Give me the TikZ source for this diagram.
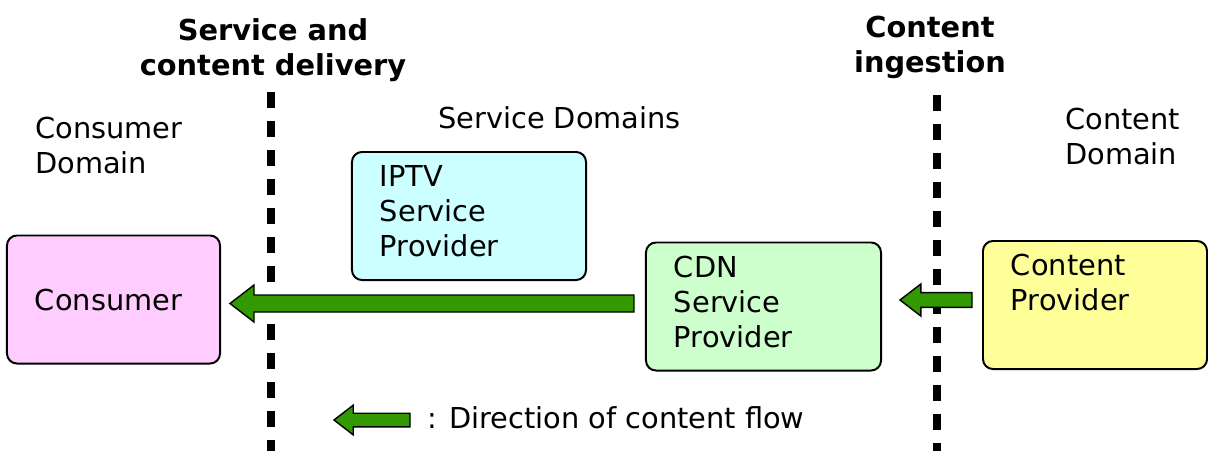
\documentclass[tikz,border=0pt]{standalone}
\usepackage{fontspec}
\setmainfont{DejaVu Sans}
\usetikzlibrary{calc}

\definecolor{consumerpink}{HTML}{FFCCFF}
\definecolor{iptvcyan}{HTML}{CCFFFF}
\definecolor{cdngreen}{HTML}{CCFFCC}
\definecolor{provideryellow}{HTML}{FFFF99}
\definecolor{flowgreen}{HTML}{339900}

\tikzset{
  every node/.style={font=\fontsize{20.5}{24.9}\selectfont},
  title/.style={font=\fontsize{20.5}{24.9}\selectfont\bfseries, align=center, inner sep=0pt},
  domaintext/.style={align=left, inner sep=0pt},
  box/.style={draw, line width=1.4pt, rounded corners=0.25cm, align=left,
    inner xsep=0.7cm, inner ysep=0pt, minimum height=3.2cm},
  providerbox/.style={box, text depth=2cm},
  divider/.style={line width=5pt, dash pattern=on 0.4cm off 0.325cm},
  flow/.style={draw, line width=1pt, fill=flowgreen, line join=miter}
}

% #1 size, #2 tail, #3 tip (pointing left)
\newcommand{\flowarrow}[3][1]{%
  \draw[flow] ($(#2)+#1*(0,-8.5)$) -- ($(#3)+#1*(24,-8.5)$) -- ($(#3)+#1*(24,-18.5)$)
    -- (#3) -- ($(#3)+#1*(24,18.5)$) -- ($(#3)+#1*(24,8.5)$) -- ($(#2)+#1*(0,8.5)$) -- cycle;}

\begin{document}
\begin{tikzpicture}[x=0.025cm, y=-0.025cm]
  \useasboundingbox (0,0) rectangle (1208,450);

  \node[title, anchor=north] (delivery) at (273,18) {Service and\\content delivery};
  \node[title, anchor=north] (ingestion) at (930,16) {Content\\ingestion};

  \draw[divider] (271,92) -- (271,452);
  \draw[divider] (937,95) -- (937,452);

  \node[domaintext, anchor=north west] (consdomain) at (35,117) {Consumer\\Domain};
  \node[domaintext, anchor=base west] (servdomains) at (438,128) {Service Domains};
  \node[domaintext, anchor=north west] (contdomain) at (1065,108) {Content\\Domain};

  \node[box, fill=consumerpink, text width=3.925cm] (consumer) at (113.5,299.5) {Consumer};
  \node[providerbox, fill=iptvcyan, text width=4.45cm] (iptv) at (469,216) {IPTV\\Service\\Provider};
  \node[providerbox, fill=cdngreen, text width=4.475cm] (cdn) at (763.5,306.5) {CDN\\Service\\Provider};
  \node[providerbox, fill=provideryellow, text width=4.2cm] (provider) at (1095,305) {Content\\Provider};

  \coordinate (cdnout) at ($(cdn.west)+(-11,-3)$);
  \coordinate (consin) at ($(consumer.east)+(9,4)$);
  \coordinate (provout) at ($(provider.west)+(-10,-5)$);
  \coordinate (cdnin) at ($(cdn.east)+(18,-6.5)$);
  \flowarrow{cdnout}{consin}
  \flowarrow[0.87]{provout}{cdnin}

  \coordinate (legendtip) at (334,420);
  \coordinate (legendtail) at (410,420);
  \flowarrow[0.8]{legendtail}{legendtip}
  \node[domaintext, anchor=base west] (legend) at (427,428) {: Direction of content flow};
\end{tikzpicture}
\end{document}
